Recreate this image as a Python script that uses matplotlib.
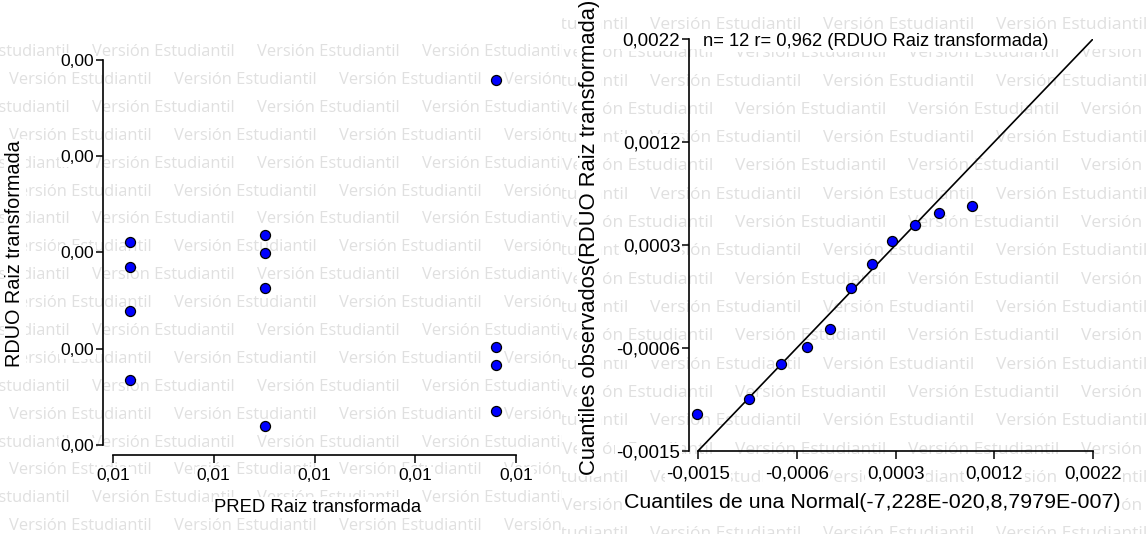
import matplotlib
matplotlib.use("Agg")
import matplotlib.pyplot as plt
from matplotlib.patches import Rectangle
import numpy as np

plt.rcParams['font.family'] = ['Liberation Sans', 'DejaVu Sans']

# ---------------- data ----------------
pred_groups = [0.00817, 0.00951, 0.01180]            # PRED Raiz transformada
rduo_group1 = [0.00064, 0.00039, -0.00004, -0.00072]  # RDUO at first PRED level
rduo_group2 = [0.00070, 0.00053, 0.00018, -0.00117]
rduo_group3 = [0.00223, -0.00040, -0.00057, -0.00103]

pred_ticks = [0.0080, 0.0090, 0.0100, 0.0110, 0.0120]
pred_ticklabels = ['0,01', '0,01', '0,01', '0,01', '0,01']
rduo_ticks = [-0.00136, -0.000414, 0.000532, 0.001478, 0.002424]
rduo_ticklabels = ['0,00', '0,00', '0,00', '0,00', '0,00']

normal_quantiles = [-0.001509, -0.001022, -0.000723, -0.000479, -0.000264, -0.000067,
                    0.000130, 0.000317, 0.000533, 0.000757, 0.001067, 0.001589]
qq_ticks = [-0.0015, -0.000575, 0.00035, 0.001275, 0.0022]
qq_ticklabels = ['-0,0015', '-0,0006', '0,0003', '0,0012', '0,0022']
r_text = '0,962'

WATERMARK = 'Versión Estudiantil'

# ---------------- figure ----------------
W, H = 1146, 534
fig = plt.figure(figsize=(W / 100, H / 100), dpi=100)


def px_axes(x0, y0, x1, y1, **kw):
    """Axes placed by pixel box (top-left origin)."""
    return fig.add_axes([x0 / W, 1 - y1 / H, (x1 - x0) / W, (y1 - y0) / H], **kw)


def watermark(x0, y0, x1, y1, row_y, row_dy, start_a, start_b, period, first_is_b,
              size):
    ax = px_axes(x0, y0, x1, y1, zorder=0)
    ax.set_axis_off()
    ax.set_xlim(x0, x1)
    ax.set_ylim(y1, y0)
    k = 0
    y = row_y
    while y < y1 + 20:
        is_b = (k % 2 == 0) == first_is_b
        sx = start_b if is_b else start_a
        while sx > x0 - period:
            sx -= period
        x = sx
        while x < x1:
            ax.text(x, y, WATERMARK, fontsize=size, color='#e0e0e0',
                    family='Open Sans', ha='left', va='center', clip_on=True)
            x += period
        y += row_dy
        k += 1
    return ax


wm_left = watermark(0, 43, 562, 534, 52, 27.9, 9, 92, 165, True, 11.9)
wm_right = watermark(562, 12, 1146, 534, 25, 28.3, 735, 650, 173, True, 12.5)
wm_right.add_patch(Rectangle((562, 29), 584, 20, facecolor='white',
                             edgecolor='none', zorder=5))

white_box = dict(boxstyle='square,pad=0.08', facecolor='white', edgecolor='none')


def style_axes(ax, xlab_pad, ylab_pad, fs):
    ax.set_facecolor('none')
    for side in ('top', 'right'):
        ax.spines[side].set_visible(False)
    for side in ('left', 'bottom'):
        ax.spines[side].set_linewidth(1.2)
    ax.tick_params(axis='both', direction='out', length=5.8, width=1.1,
                   labelsize=fs, colors='black')
    ax.tick_params(axis='x', pad=xlab_pad)
    ax.tick_params(axis='y', pad=ylab_pad)
    for t in ax.get_xticklabels() + ax.get_yticklabels():
        t.set_bbox(white_box)


# ---------------- left panel: RDUO vs PRED ----------------
ax1 = px_axes(103, 60, 516, 455, zorder=1)
x_step = (pred_ticks[-1] - pred_ticks[0]) / (516 - 113)
y_step = (rduo_ticks[-1] - rduo_ticks[0]) / (445 - 60)
ax1.set_xlim(pred_ticks[0] - 10 * x_step, pred_ticks[-1])
ax1.set_ylim(rduo_ticks[0] - 10 * y_step, rduo_ticks[-1])
for xv, res in zip(pred_groups, [rduo_group1, rduo_group2, rduo_group3]):
    ax1.scatter([xv] * len(res), res, s=52, color='#0000ff', edgecolors='black',
                linewidths=0.9, zorder=4, clip_on=False)
ax1.set_xticks(pred_ticks, pred_ticklabels)
ax1.set_yticks(rduo_ticks, rduo_ticklabels)
ax1.spines['left'].set_bounds(rduo_ticks[0], rduo_ticks[-1])
ax1.spines['bottom'].set_bounds(pred_ticks[0], pred_ticks[-1])
style_axes(ax1, 3.6, 0.5, 12.5)

fig.text(15 / W, 1 - 254 / H, 'RDUO Raiz transformada', rotation=90,
         ha='center', va='center', fontsize=14.3, bbox=white_box)
fig.text(318 / W, 1 - 507 / H, 'PRED Raiz transformada',
         ha='center', va='center', fontsize=13.3, bbox=white_box)

# ---------------- right panel: normal QQ plot ----------------
residuals = np.array(rduo_group1 + rduo_group2 + rduo_group3)
observed = np.sort(residuals)
theoretical = np.array(normal_quantiles)

ax2 = px_axes(689, 39, 1093, 451, zorder=1)
q_step = (qq_ticks[-1] - qq_ticks[0]) / (1093 - 698)
ax2.set_xlim(qq_ticks[0] - 9 * q_step, qq_ticks[-1])
ax2.set_ylim(qq_ticks[0], qq_ticks[-1])
ax2.plot([qq_ticks[0], qq_ticks[-1]], [qq_ticks[0], qq_ticks[-1]],
         color='black', lw=1.2, zorder=3, solid_capstyle='butt')
inside = (observed >= qq_ticks[0]) & (observed <= qq_ticks[-1])
ax2.scatter(theoretical[inside], observed[inside], s=52, color='#0000ff',
            edgecolors='black', linewidths=0.9, zorder=4, clip_on=False)
ax2.set_xticks(qq_ticks, qq_ticklabels)
ax2.set_yticks(qq_ticks, qq_ticklabels)
ax2.spines['bottom'].set_bounds(qq_ticks[0], qq_ticks[-1])
style_axes(ax2, 4.3, 0.5, 13.5)

fig.text(703 / W, 1 - 42 / H,
         f'n= {len(residuals)} r= {r_text} (RDUO Raiz transformada)',
         ha='left', va='center', fontsize=13.2, bbox=white_box)
fig.text(589 / W, 1 - 237 / H, 'Cuantiles observados(RDUO Raiz transformada)',
         rotation=90, ha='center', va='center', fontsize=15.8, bbox=white_box)
fig.text(872 / W, 1 - 503 / H, 'Cuantiles de una Normal(-7,228E-020,8,7979E-007)',
         ha='center', va='center', fontsize=15.4, bbox=white_box)

fig.savefig('out.png', dpi=100, facecolor='white')
